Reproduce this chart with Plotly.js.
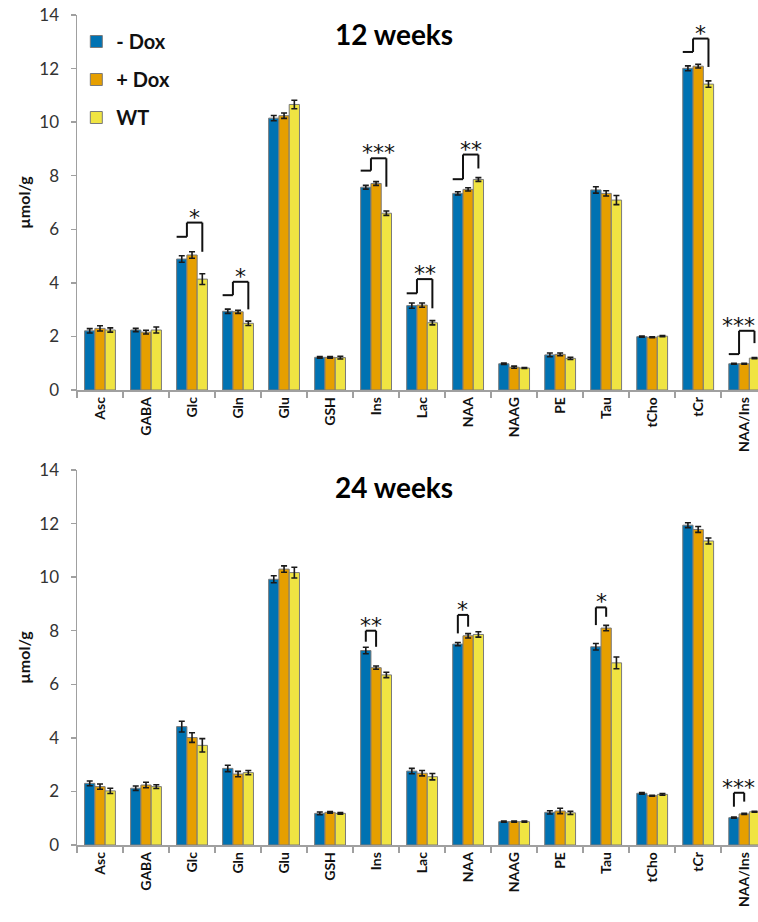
<!DOCTYPE html>
<html>
<head>
<meta charset="utf-8">
<script src="https://cdn.plot.ly/plotly-3.0.1.min.js"></script>
<style>html,body{margin:0;padding:0;background:#fff;}#chart{width:758px;height:922px;}</style>
</head>
<body>
<div id="chart"></div>
<script>
// ---------- data ----------
var categories = ["Asc","GABA","Glc","Gln","Glu","GSH","Ins","Lac","NAA","NAAG","PE","Tau","tCho","tCr","NAA/Ins"];
var seriesNames = ["- Dox", "+ Dox", "WT"];

// 12 weeks
var w12Minus    = [2.21, 2.24, 4.89, 2.94, 10.15, 1.22, 7.57, 3.15, 7.34, 0.98, 1.31, 7.47, 1.99, 12.01, 0.98];
var w12MinusErr = [0.08, 0.06, 0.12, 0.08, 0.10, 0.03, 0.07, 0.10, 0.06, 0.03, 0.07, 0.12, 0.02, 0.09, 0.02];
var w12Plus     = [2.30, 2.16, 5.04, 2.92, 10.24, 1.22, 7.71, 3.17, 7.49, 0.85, 1.33, 7.34, 1.97, 12.09, 0.98];
var w12PlusErr  = [0.10, 0.07, 0.12, 0.06, 0.10, 0.03, 0.07, 0.08, 0.06, 0.04, 0.05, 0.10, 0.02, 0.07, 0.02];
var w12WT       = [2.24, 2.24, 4.14, 2.49, 10.66, 1.21, 6.60, 2.51, 7.86, 0.82, 1.18, 7.09, 2.01, 11.42, 1.19];
var w12WTErr    = [0.08, 0.11, 0.20, 0.08, 0.16, 0.05, 0.08, 0.08, 0.07, 0.02, 0.04, 0.17, 0.02, 0.12, 0.02];

// 24 weeks
var w24Minus    = [2.30, 2.12, 4.42, 2.86, 9.92, 1.18, 7.26, 2.76, 7.50, 0.87, 1.22, 7.40, 1.93, 11.94, 1.02];
var w24MinusErr = [0.09, 0.08, 0.20, 0.12, 0.13, 0.05, 0.12, 0.10, 0.06, 0.02, 0.06, 0.12, 0.03, 0.09, 0.02];
var w24Plus     = [2.18, 2.24, 4.01, 2.65, 10.30, 1.22, 6.62, 2.68, 7.81, 0.87, 1.27, 8.10, 1.84, 11.78, 1.16];
var w24PlusErr  = [0.10, 0.10, 0.18, 0.10, 0.12, 0.03, 0.06, 0.10, 0.08, 0.02, 0.10, 0.10, 0.02, 0.11, 0.02];
var w24WT       = [2.02, 2.18, 3.72, 2.70, 10.17, 1.18, 6.35, 2.55, 7.86, 0.87, 1.20, 6.80, 1.89, 11.35, 1.24];
var w24WTErr    = [0.10, 0.07, 0.25, 0.08, 0.20, 0.03, 0.10, 0.12, 0.10, 0.02, 0.06, 0.22, 0.03, 0.11, 0.02];

// significance brackets, 12 weeks: (-Dox,+Dox) pooled vs WT
var sig12Cat   = ["Glc","Gln","Ins","Lac","NAA","tCr","NAA/Ins"];
var sig12Low   = [5.72, 3.54, 8.19, 3.61, 7.87, 12.62, 1.34];
var sig12Top   = [6.25, 4.04, 8.65, 4.14, 8.79, 13.12, 2.21];
var sig12Down  = [5.16, 3.01, 7.59, 3.05, 8.27, 12.06, 1.75];
var sig12Text  = ["*", "*", "***", "**", "**", "*", "***"];
// significance brackets, 24 weeks: -Dox vs +Dox
var sig24Cat   = ["Ins","NAA","Tau","NAA/Ins"];
var sig24Left  = [7.59, 7.90, 8.21, 1.43];
var sig24Top   = [8.00, 8.59, 8.87, 1.95];
var sig24Right = [7.40, 8.15, 8.52, 1.62];
var sig24Text  = ["**", "*", "*", "***"];

var colors = ["#0072B2", "#E69F00", "#F0E442"];

// ---------- build ----------
var W = 758, H = 922;
var BARGAP = 0.33;
var XMAX = 14.3;
var bw = (1 - BARGAP) / 3; // bar width in category units
var FONT = "Lato, 'Open Sans', sans-serif";

function barTrace(vals, errs, i, xa, ya, show) {
  return {
    type: "bar", x: categories, y: vals, name: seriesNames[i],
    xaxis: xa, yaxis: ya, showlegend: show, legendgroup: "g" + i,
    marker: {color: colors[i], line: {color: "#7a7a7a", width: 1}},
    error_y: {type: "data", array: errs, visible: true, color: "#1a1a1a", thickness: 1.6, width: 3}
  };
}

var data = [
  barTrace(w12Minus, w12MinusErr, 0, "x", "y", true),
  barTrace(w12Plus,  w12PlusErr,  1, "x", "y", true),
  barTrace(w12WT,    w12WTErr,    2, "x", "y", true),
  barTrace(w24Minus, w24MinusErr, 0, "x2", "y2", false),
  barTrace(w24Plus,  w24PlusErr,  1, "x2", "y2", false),
  barTrace(w24WT,    w24WTErr,    2, "x2", "y2", false)
];

var shapes = [], annotations = [];
var lineStyle = {color: "#111", width: 2};
function seg(xr, yr, x0, y0, x1, y1) {
  shapes.push({type: "line", xref: xr, yref: yr, x0: x0, y0: y0, x1: x1, y1: y1, line: lineStyle, layer: "above"});
}
function star(xr, yr, x, y, t) {
  var halfW = t.length * 0.012 * 14.8 / 2 * 2.2; // approx half width of the text in category units
  var ann = {xref: xr, yref: yr, x: x, y: y, text: t, showarrow: false, yanchor: "bottom", yshift: -9,
    xanchor: "center", font: {family: "'DejaVu Sans', sans-serif", size: 22, color: "#111"}};
  if (x + halfW > XMAX) { ann.x = XMAX; ann.xanchor = "right"; ann.xshift = -1; }
  annotations.push(ann);
}

sig12Cat.forEach(function (c, k) {
  var i = categories.indexOf(c);
  var left = i - 1.5 * bw, pair = i - 0.5 * bw, wt = i + bw;
  seg("x", "y", left, sig12Low[k], pair, sig12Low[k]);
  seg("x", "y", pair, sig12Low[k], pair, sig12Top[k]);
  seg("x", "y", pair, sig12Top[k], wt, sig12Top[k]);
  seg("x", "y", wt, sig12Top[k], wt, sig12Down[k]);
  star("x", "y", (pair + wt) / 2, sig12Top[k], sig12Text[k]);
});
sig24Cat.forEach(function (c, k) {
  var i = categories.indexOf(c);
  var a = i - bw, b = i;
  seg("x2", "y2", a, sig24Left[k], a, sig24Top[k]);
  seg("x2", "y2", a, sig24Top[k], b, sig24Top[k]);
  seg("x2", "y2", b, sig24Top[k], b, sig24Right[k]);
  star("x2", "y2", (a + b) / 2, sig24Top[k], sig24Text[k]);
});

// panel titles
annotations.push({xref: "paper", yref: "paper", x: (394 - 77) / (W - 77), y: 1 - 33.5 / H, text: "12 weeks",
  showarrow: false, xanchor: "center", yanchor: "middle", font: {family: FONT, size: 28, weight: "bold", color: "#000"}});
annotations.push({xref: "paper", yref: "paper", x: (394 - 77) / (W - 77), y: 1 - 487 / H, text: "24 weeks",
  showarrow: false, xanchor: "center", yanchor: "middle", font: {family: FONT, size: 28, weight: "bold", color: "#000"}});

function xAxis(anchor) {
  return {
    type: "category", anchor: anchor, range: [-0.5, XMAX], tickson: "boundaries",
    ticks: "outside", ticklen: 6, tickcolor: "#a0a0a0", tickwidth: 1.5,
    showline: true, linecolor: "#a0a0a0", linewidth: 1.5, showgrid: false, zeroline: false,
    tickangle: -90, tickfont: {family: FONT, size: 14, weight: "bold", color: "#111"}, fixedrange: true
  };
}
function yAxis(anchor, dom) {
  return {
    anchor: anchor, domain: dom, range: [0, 14], dtick: 2, tick0: 0,
    ticks: "outside", ticklen: 5, tickcolor: "#a0a0a0", tickwidth: 1.5, ticklabelstandoff: 8,
    showline: true, linecolor: "#a0a0a0", linewidth: 1.5, showgrid: false, zeroline: false,
    tickfont: {family: FONT, size: 17, color: "#333"},
    title: {text: "µmol/g", standoff: 5, font: {family: FONT, size: 16, weight: "bold", color: "#111"}}
  };
}

var layout = {
  width: W, height: H, autosize: false,
  margin: {l: 77, r: 0, t: 0, b: 0, pad: 0},
  paper_bgcolor: "#fff", plot_bgcolor: "#fff",
  barmode: "group", bargap: BARGAP, bargroupgap: 0,
  showlegend: true,
  legend: {x: -0.001, y: 1 - 22 / H, xanchor: "left", yanchor: "top", bgcolor: "rgba(0,0,0,0)",
    tracegroupgap: 9, font: {family: FONT, size: 20, weight: "bold", color: "#111"}},
  xaxis: xAxis("y"),
  yaxis: yAxis("x", [1 - 390 / H, 1 - 15 / H]),
  xaxis2: xAxis("y2"),
  yaxis2: yAxis("x2", [1 - 845 / H, 1 - 470 / H]),
  shapes: shapes,
  annotations: annotations
};

Plotly.newPlot("chart", data, layout, {displayModeBar: false, staticPlot: true});
</script>
</body>
</html>
